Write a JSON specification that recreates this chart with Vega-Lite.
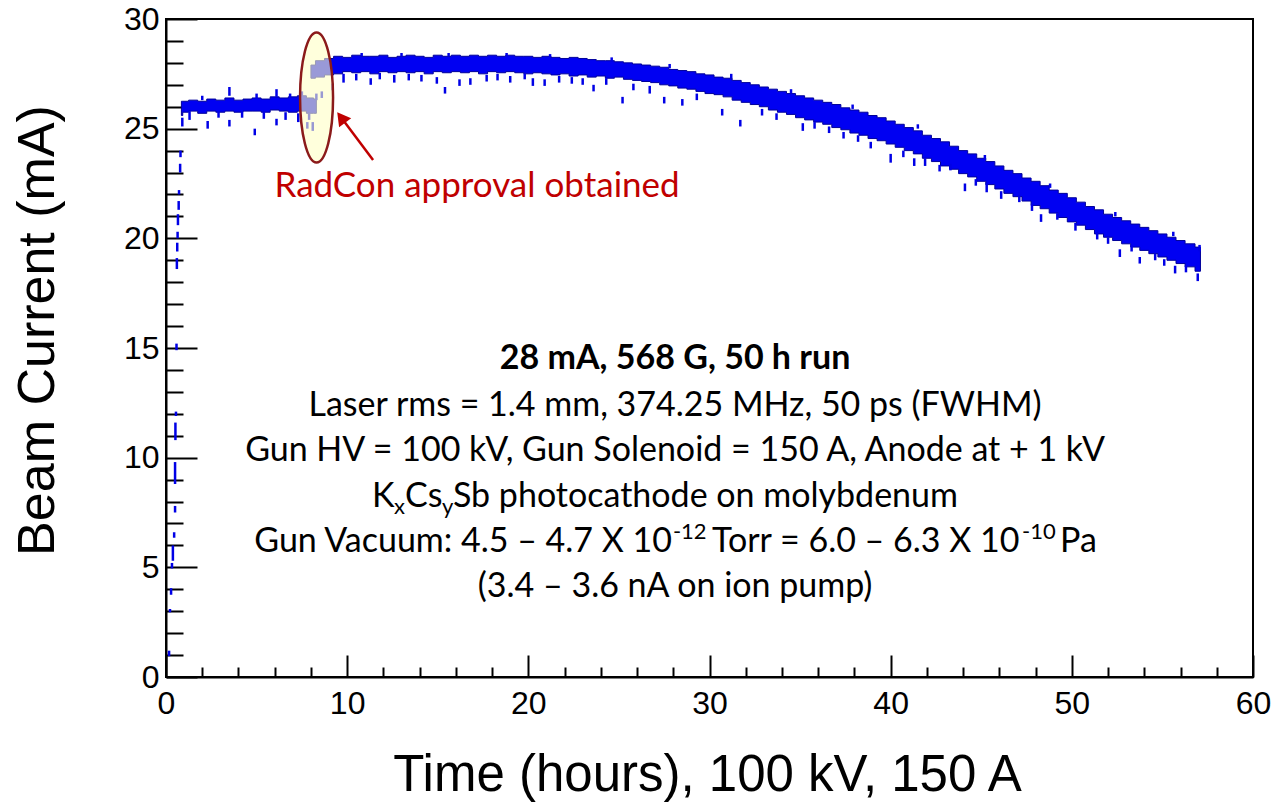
{
  "$schema": "https://vega.github.io/schema/vega-lite/v6.json",
  "width": 1087,
  "height": 658,
  "autosize": {"type": "none"},
  "padding": {"left": 166, "top": 19, "right": 18, "bottom": 130},
  "background": "white",
  "config": {
    "view": {"stroke": "black", "strokeWidth": 2},
    "axis": {
      "domainColor": "black",
      "domainWidth": 2,
      "tickColor": "black",
      "tickWidth": 2,
      "labelFont": "Liberation Sans",
      "labelFontSize": 32,
      "labelColor": "black",
      "labelFlush": false,
      "labelOverlap": false,
      "labelBound": false,
      "grid": false,
      "titleFont": "Liberation Sans",
      "titleFontSize": 50,
      "titleFontWeight": "normal",
      "titleColor": "black"
    }
  },
  "resolve": {"axis": {"x": "independent", "y": "independent"}},
  "datasets": {
    "band": [
      {"seg": "a", "t": 0.85, "lo": 25.6, "hi": 26.25},
      {"seg": "a", "t": 1.0, "lo": 25.75, "hi": 26.25},
      {"seg": "a", "t": 1.5, "lo": 25.8, "hi": 26.3},
      {"seg": "a", "t": 2.0, "lo": 25.7, "hi": 26.25},
      {"seg": "a", "t": 2.5, "lo": 25.8, "hi": 26.35},
      {"seg": "a", "t": 3.0, "lo": 25.75, "hi": 26.3},
      {"seg": "a", "t": 3.5, "lo": 25.8, "hi": 26.4},
      {"seg": "a", "t": 4.0, "lo": 25.75, "hi": 26.3},
      {"seg": "a", "t": 4.5, "lo": 25.8, "hi": 26.35},
      {"seg": "a", "t": 5.0, "lo": 25.8, "hi": 26.4},
      {"seg": "a", "t": 5.5, "lo": 25.75, "hi": 26.35},
      {"seg": "a", "t": 6.0, "lo": 25.85, "hi": 26.45},
      {"seg": "a", "t": 6.5, "lo": 25.8, "hi": 26.4},
      {"seg": "a", "t": 7.0, "lo": 25.75, "hi": 26.45},
      {"seg": "a", "t": 7.5, "lo": 25.8, "hi": 26.5},
      {"seg": "a", "t": 8.0, "lo": 25.7, "hi": 26.4},
      {"seg": "a", "t": 8.3, "lo": 25.7, "hi": 26.35},
      {"seg": "b", "t": 8.0, "lo": 27.3, "hi": 27.9},
      {"seg": "b", "t": 8.5, "lo": 27.35, "hi": 28.1},
      {"seg": "b", "t": 9.0, "lo": 27.45, "hi": 28.2},
      {"seg": "b", "t": 9.5, "lo": 27.5, "hi": 28.3},
      {"seg": "b", "t": 10.0, "lo": 27.6, "hi": 28.25},
      {"seg": "b", "t": 10.5, "lo": 27.55, "hi": 28.35},
      {"seg": "b", "t": 11.0, "lo": 27.6, "hi": 28.3},
      {"seg": "b", "t": 11.5, "lo": 27.5, "hi": 28.3},
      {"seg": "b", "t": 12.0, "lo": 27.6, "hi": 28.35},
      {"seg": "b", "t": 12.5, "lo": 27.55, "hi": 28.25},
      {"seg": "b", "t": 13.0, "lo": 27.6, "hi": 28.3},
      {"seg": "b", "t": 13.5, "lo": 27.55, "hi": 28.35},
      {"seg": "b", "t": 14.0, "lo": 27.6, "hi": 28.3},
      {"seg": "b", "t": 14.5, "lo": 27.5, "hi": 28.25},
      {"seg": "b", "t": 15.0, "lo": 27.6, "hi": 28.35},
      {"seg": "b", "t": 15.5, "lo": 27.55, "hi": 28.3},
      {"seg": "b", "t": 16.0, "lo": 27.6, "hi": 28.35},
      {"seg": "b", "t": 16.5, "lo": 27.55, "hi": 28.3},
      {"seg": "b", "t": 17.0, "lo": 27.6, "hi": 28.35},
      {"seg": "b", "t": 17.5, "lo": 27.5, "hi": 28.3},
      {"seg": "b", "t": 18.0, "lo": 27.6, "hi": 28.35},
      {"seg": "b", "t": 18.5, "lo": 27.55, "hi": 28.3},
      {"seg": "b", "t": 19.0, "lo": 27.6, "hi": 28.35},
      {"seg": "b", "t": 19.5, "lo": 27.55, "hi": 28.3},
      {"seg": "b", "t": 20.0, "lo": 27.5, "hi": 28.3},
      {"seg": "b", "t": 20.5, "lo": 27.55, "hi": 28.25},
      {"seg": "b", "t": 21.0, "lo": 27.5, "hi": 28.3},
      {"seg": "b", "t": 21.5, "lo": 27.45, "hi": 28.25},
      {"seg": "b", "t": 22.0, "lo": 27.5, "hi": 28.2},
      {"seg": "b", "t": 22.5, "lo": 27.4, "hi": 28.25},
      {"seg": "b", "t": 23.0, "lo": 27.45, "hi": 28.2},
      {"seg": "b", "t": 23.5, "lo": 27.35, "hi": 28.15},
      {"seg": "b", "t": 24.0, "lo": 27.4, "hi": 28.1},
      {"seg": "b", "t": 24.5, "lo": 27.3, "hi": 28.1},
      {"seg": "b", "t": 25.0, "lo": 27.35, "hi": 28.05},
      {"seg": "b", "t": 25.5, "lo": 27.25, "hi": 28.0},
      {"seg": "b", "t": 26.0, "lo": 27.2, "hi": 27.95},
      {"seg": "b", "t": 26.5, "lo": 27.15, "hi": 27.9},
      {"seg": "b", "t": 27.0, "lo": 27.1, "hi": 27.85},
      {"seg": "b", "t": 27.5, "lo": 27.0, "hi": 27.8},
      {"seg": "b", "t": 28.0, "lo": 26.95, "hi": 27.7},
      {"seg": "b", "t": 28.5, "lo": 26.85, "hi": 27.65},
      {"seg": "b", "t": 29.0, "lo": 26.8, "hi": 27.6},
      {"seg": "b", "t": 29.5, "lo": 26.7, "hi": 27.5},
      {"seg": "b", "t": 30.0, "lo": 26.6, "hi": 27.45},
      {"seg": "b", "t": 30.5, "lo": 26.55, "hi": 27.35},
      {"seg": "b", "t": 31.0, "lo": 26.45, "hi": 27.3},
      {"seg": "b", "t": 31.5, "lo": 26.3, "hi": 27.2},
      {"seg": "b", "t": 32.0, "lo": 26.2, "hi": 27.1},
      {"seg": "b", "t": 32.5, "lo": 26.1, "hi": 27.0},
      {"seg": "b", "t": 33.0, "lo": 26.0, "hi": 26.9},
      {"seg": "b", "t": 33.5, "lo": 25.85, "hi": 26.8},
      {"seg": "b", "t": 34.0, "lo": 25.75, "hi": 26.7},
      {"seg": "b", "t": 34.5, "lo": 25.65, "hi": 26.6},
      {"seg": "b", "t": 35.0, "lo": 25.5, "hi": 26.5},
      {"seg": "b", "t": 35.5, "lo": 25.4, "hi": 26.4},
      {"seg": "b", "t": 36.0, "lo": 25.3, "hi": 26.3},
      {"seg": "b", "t": 36.5, "lo": 25.2, "hi": 26.2},
      {"seg": "b", "t": 37.0, "lo": 25.05, "hi": 26.1},
      {"seg": "b", "t": 37.5, "lo": 24.95, "hi": 25.95},
      {"seg": "b", "t": 38.0, "lo": 24.8, "hi": 25.85},
      {"seg": "b", "t": 38.5, "lo": 24.7, "hi": 25.75},
      {"seg": "b", "t": 39.0, "lo": 24.55, "hi": 25.6},
      {"seg": "b", "t": 39.5, "lo": 24.45, "hi": 25.5},
      {"seg": "b", "t": 40.0, "lo": 24.3, "hi": 25.35},
      {"seg": "b", "t": 40.5, "lo": 24.15, "hi": 25.2},
      {"seg": "b", "t": 41.0, "lo": 24.0, "hi": 25.05},
      {"seg": "b", "t": 41.5, "lo": 23.85, "hi": 24.9},
      {"seg": "b", "t": 42.0, "lo": 23.65, "hi": 24.7},
      {"seg": "b", "t": 42.5, "lo": 23.5, "hi": 24.55},
      {"seg": "b", "t": 43.0, "lo": 23.3, "hi": 24.4},
      {"seg": "b", "t": 43.5, "lo": 23.15, "hi": 24.2},
      {"seg": "b", "t": 44.0, "lo": 22.95, "hi": 24.0},
      {"seg": "b", "t": 44.5, "lo": 22.8, "hi": 23.85},
      {"seg": "b", "t": 45.0, "lo": 22.6, "hi": 23.65},
      {"seg": "b", "t": 45.5, "lo": 22.45, "hi": 23.5},
      {"seg": "b", "t": 46.0, "lo": 22.25, "hi": 23.3},
      {"seg": "b", "t": 46.5, "lo": 22.05, "hi": 23.1},
      {"seg": "b", "t": 47.0, "lo": 21.9, "hi": 22.95},
      {"seg": "b", "t": 47.5, "lo": 21.7, "hi": 22.75},
      {"seg": "b", "t": 48.0, "lo": 21.5, "hi": 22.6},
      {"seg": "b", "t": 48.5, "lo": 21.35, "hi": 22.4},
      {"seg": "b", "t": 49.0, "lo": 21.15, "hi": 22.2},
      {"seg": "b", "t": 49.5, "lo": 20.95, "hi": 22.05},
      {"seg": "b", "t": 50.0, "lo": 20.75, "hi": 21.85},
      {"seg": "b", "t": 50.5, "lo": 20.6, "hi": 21.65},
      {"seg": "b", "t": 51.0, "lo": 20.4, "hi": 21.45},
      {"seg": "b", "t": 51.5, "lo": 20.2, "hi": 21.3},
      {"seg": "b", "t": 52.0, "lo": 20.05, "hi": 21.1},
      {"seg": "b", "t": 52.5, "lo": 19.9, "hi": 20.95},
      {"seg": "b", "t": 53.0, "lo": 19.75, "hi": 20.8},
      {"seg": "b", "t": 53.5, "lo": 19.6, "hi": 20.65},
      {"seg": "b", "t": 54.0, "lo": 19.45, "hi": 20.5},
      {"seg": "b", "t": 54.5, "lo": 19.3, "hi": 20.35},
      {"seg": "b", "t": 55.0, "lo": 19.15, "hi": 20.2},
      {"seg": "b", "t": 55.5, "lo": 19.0, "hi": 20.05},
      {"seg": "b", "t": 56.0, "lo": 18.85, "hi": 19.9},
      {"seg": "b", "t": 56.5, "lo": 18.7, "hi": 19.75},
      {"seg": "b", "t": 57.1, "lo": 18.5, "hi": 19.6}
    ],
    "dash": [
      {"t": 0.17, "lo": 0.95, "hi": 1.2},
      {"t": 0.22, "lo": 2.95, "hi": 3.1},
      {"t": 0.28, "lo": 3.75, "hi": 4.05},
      {"t": 0.33, "lo": 4.95, "hi": 5.2},
      {"t": 0.38, "lo": 5.3, "hi": 6.0},
      {"t": 0.45, "lo": 6.35, "hi": 6.6},
      {"t": 0.5, "lo": 7.5, "hi": 7.8},
      {"t": 0.5, "lo": 8.8, "hi": 9.8},
      {"t": 0.52, "lo": 10.8, "hi": 11.6},
      {"t": 0.55, "lo": 11.9, "hi": 12.1},
      {"t": 0.58, "lo": 14.9, "hi": 15.2},
      {"t": 0.6, "lo": 18.6, "hi": 19.1},
      {"t": 0.62, "lo": 19.4, "hi": 19.8},
      {"t": 0.64, "lo": 20.0, "hi": 20.3},
      {"t": 0.66, "lo": 20.6, "hi": 21.1},
      {"t": 0.7, "lo": 21.3, "hi": 21.7},
      {"t": 0.72, "lo": 22.0, "hi": 22.2},
      {"t": 0.78, "lo": 23.0, "hi": 23.4},
      {"t": 0.8, "lo": 23.7, "hi": 24.0},
      {"t": 0.9, "lo": 25.1, "hi": 25.5},
      {"t": 1.3, "lo": 25.4, "hi": 25.8},
      {"t": 2.0, "lo": 26.3, "hi": 26.5},
      {"t": 2.3, "lo": 25.0, "hi": 25.35},
      {"t": 2.9, "lo": 25.5, "hi": 25.8},
      {"t": 3.5, "lo": 25.1, "hi": 25.4},
      {"t": 3.5, "lo": 26.5, "hi": 26.9},
      {"t": 4.2, "lo": 25.5, "hi": 25.8},
      {"t": 4.9, "lo": 24.7, "hi": 25.0},
      {"t": 5.0, "lo": 26.35, "hi": 26.6},
      {"t": 5.4, "lo": 25.45, "hi": 25.8},
      {"t": 6.1, "lo": 25.15, "hi": 25.45},
      {"t": 6.1, "lo": 26.45, "hi": 26.8},
      {"t": 6.6, "lo": 25.4, "hi": 25.75},
      {"t": 6.85, "lo": 26.4, "hi": 26.6},
      {"t": 7.3, "lo": 25.3, "hi": 25.7},
      {"t": 7.5, "lo": 26.45, "hi": 26.7},
      {"t": 7.8, "lo": 25.0, "hi": 25.3},
      {"t": 7.9, "lo": 25.4, "hi": 25.7},
      {"t": 8.1, "lo": 24.9, "hi": 25.3},
      {"t": 8.3, "lo": 26.3, "hi": 26.6},
      {"t": 8.6, "lo": 26.4, "hi": 26.7},
      {"t": 9.2, "lo": 26.75, "hi": 27.05},
      {"t": 9.8, "lo": 27.1, "hi": 27.5},
      {"t": 10.5, "lo": 27.2, "hi": 27.5},
      {"t": 10.8, "lo": 28.3, "hi": 28.45},
      {"t": 11.3, "lo": 27.0, "hi": 27.3},
      {"t": 11.8, "lo": 27.25, "hi": 27.55},
      {"t": 12.6, "lo": 27.1, "hi": 27.45},
      {"t": 13.0, "lo": 28.3, "hi": 28.45},
      {"t": 13.4, "lo": 27.2, "hi": 27.5},
      {"t": 14.1, "lo": 27.15, "hi": 27.45},
      {"t": 14.95, "lo": 27.05, "hi": 27.35},
      {"t": 15.4, "lo": 26.6, "hi": 26.9},
      {"t": 15.6, "lo": 28.3, "hi": 28.45},
      {"t": 16.2, "lo": 26.95, "hi": 27.25},
      {"t": 16.8, "lo": 27.0, "hi": 27.3},
      {"t": 17.7, "lo": 27.15, "hi": 27.45},
      {"t": 18.3, "lo": 27.2, "hi": 27.5},
      {"t": 18.8, "lo": 28.3, "hi": 28.45},
      {"t": 19.0, "lo": 27.1, "hi": 27.4},
      {"t": 19.8, "lo": 27.25, "hi": 27.5},
      {"t": 20.25, "lo": 26.95, "hi": 27.3},
      {"t": 20.9, "lo": 26.95, "hi": 27.25},
      {"t": 21.2, "lo": 28.25, "hi": 28.4},
      {"t": 21.7, "lo": 27.1, "hi": 27.4},
      {"t": 22.4, "lo": 27.05, "hi": 27.35},
      {"t": 23.0, "lo": 27.0, "hi": 27.3},
      {"t": 23.6, "lo": 26.7, "hi": 27.0},
      {"t": 24.3, "lo": 27.0, "hi": 27.3},
      {"t": 24.6, "lo": 28.05, "hi": 28.25},
      {"t": 25.2, "lo": 26.15, "hi": 26.45},
      {"t": 25.8, "lo": 26.75, "hi": 27.05},
      {"t": 26.7, "lo": 26.6, "hi": 26.95},
      {"t": 27.5, "lo": 26.15, "hi": 26.45},
      {"t": 27.8, "lo": 27.75, "hi": 27.95},
      {"t": 28.5, "lo": 26.05, "hi": 26.35},
      {"t": 29.3, "lo": 26.3, "hi": 26.6},
      {"t": 30.7, "lo": 25.6, "hi": 25.9},
      {"t": 31.2, "lo": 27.3, "hi": 27.5},
      {"t": 31.7, "lo": 25.1, "hi": 25.4},
      {"t": 32.9, "lo": 25.6, "hi": 25.9},
      {"t": 33.7, "lo": 25.4, "hi": 25.7},
      {"t": 34.5, "lo": 26.6, "hi": 26.8},
      {"t": 35.15, "lo": 24.9, "hi": 25.25},
      {"t": 35.8, "lo": 25.0, "hi": 25.3},
      {"t": 36.6, "lo": 24.8, "hi": 25.1},
      {"t": 37.4, "lo": 24.55, "hi": 24.85},
      {"t": 37.9, "lo": 25.9, "hi": 26.1},
      {"t": 38.2, "lo": 24.4, "hi": 24.7},
      {"t": 38.9, "lo": 24.1, "hi": 24.4},
      {"t": 40.0, "lo": 23.45, "hi": 23.85},
      {"t": 40.7, "lo": 23.7, "hi": 24.0},
      {"t": 41.3, "lo": 23.3, "hi": 23.65},
      {"t": 41.5, "lo": 25.0, "hi": 25.2},
      {"t": 41.9, "lo": 23.3, "hi": 23.65},
      {"t": 42.7, "lo": 23.05, "hi": 23.35},
      {"t": 43.3, "lo": 23.1, "hi": 23.4},
      {"t": 44.1, "lo": 22.15, "hi": 22.5},
      {"t": 44.7, "lo": 22.4, "hi": 22.7},
      {"t": 45.2, "lo": 23.6, "hi": 23.8},
      {"t": 45.3, "lo": 22.1, "hi": 22.5},
      {"t": 46.1, "lo": 21.8, "hi": 22.15},
      {"t": 47.1, "lo": 21.65, "hi": 22.0},
      {"t": 47.8, "lo": 21.25, "hi": 21.55},
      {"t": 48.3, "lo": 20.75, "hi": 21.1},
      {"t": 48.8, "lo": 22.3, "hi": 22.5},
      {"t": 49.2, "lo": 20.85, "hi": 21.15},
      {"t": 50.2, "lo": 20.35, "hi": 20.7},
      {"t": 51.4, "lo": 19.95, "hi": 20.3},
      {"t": 52.0, "lo": 19.75, "hi": 20.05},
      {"t": 52.4, "lo": 21.0, "hi": 21.2},
      {"t": 52.65, "lo": 19.15, "hi": 19.5},
      {"t": 53.3, "lo": 19.4, "hi": 19.7},
      {"t": 53.75, "lo": 18.85, "hi": 19.15},
      {"t": 54.6, "lo": 19.0, "hi": 19.3},
      {"t": 55.1, "lo": 18.75, "hi": 19.05},
      {"t": 55.6, "lo": 20.1, "hi": 20.3},
      {"t": 55.7, "lo": 18.4, "hi": 18.75},
      {"t": 56.3, "lo": 18.45, "hi": 18.75},
      {"t": 56.95, "lo": 18.05, "hi": 18.4},
      {"t": 57.05, "lo": 19.4, "hi": 19.7}
    ]
  },
  "layer": [
    {
      "data": {"name": "band"},
      "mark": {"type": "area", "interpolate": "step", "color": "#0000f2", "stroke": "#00009a", "strokeWidth": 1, "opacity": 1},
      "encoding": {
        "x": {
          "field": "t", "type": "quantitative",
          "scale": {"domain": [0, 60], "nice": false, "zero": false},
          "axis": {
            "orient": "bottom",
            "title": "Time (hours), 100 kV, 150 A",
            "values": [0, 10, 20, 30, 40, 50, 60],
            "tickSize": -22,
            "labelPadding": 33,
            "titleX": 541,
            "titleY": 113,
            "titleAlign": "center",
            "titleBaseline": "alphabetic",
            "titleFontSize": 51
          }
        },
        "y": {
          "field": "lo", "type": "quantitative",
          "scale": {"domain": [0, 30], "nice": false, "zero": false},
          "axis": {
            "orient": "left",
            "title": "Beam Current (mA)",
            "values": [0, 5, 10, 15, 20, 25, 30],
            "tickSize": -31,
            "labelPadding": 38,
            "titleX": -102,
            "titleY": 311,
            "titleAngle": -90,
            "titleAlign": "center",
            "titleBaseline": "bottom",
            "titleFontSize": 52
          }
        },
        "y2": {"field": "hi"},
        "detail": {"field": "seg"}
      }
    },
    {
      "data": {"name": "dash"},
      "mark": {"type": "rule", "color": "#0000e6", "strokeWidth": 2.5, "strokeCap": "butt"},
      "encoding": {
        "x": {
          "field": "t", "type": "quantitative",
          "axis": {
            "orient": "bottom",
            "title": null,
            "values": [2, 4, 6, 8, 12, 14, 16, 18, 22, 24, 26, 28, 32, 34, 36, 38, 42, 44, 46, 48, 52, 54, 56, 58],
            "tickSize": -10,
            "labels": false,
            "domain": false
          }
        },
        "y": {
          "field": "lo", "type": "quantitative",
          "axis": {
            "orient": "left",
            "title": null,
            "values": [1, 2, 3, 4, 6, 7, 8, 9, 11, 12, 13, 14, 16, 17, 18, 19, 21, 22, 23, 24, 26, 27, 28, 29],
            "tickSize": -17,
            "labels": false,
            "domain": false
          }
        },
        "y2": {"field": "hi"}
      }
    },
    {
      "data": {"values": [{"t": 8.31, "v": 26.42}]},
      "mark": {
        "type": "point",
        "shape": "M0,-1 A0.254,1 0 1 1 0,1 A0.254,1 0 1 1 0,-1 Z",
        "size": 16900,
        "filled": true,
        "fill": "#ffffc4",
        "fillOpacity": 0.6,
        "stroke": "#8b1a1a",
        "strokeWidth": 2.5,
        "strokeOpacity": 1,
        "opacity": 1
      },
      "encoding": {
        "x": {"field": "t", "type": "quantitative", "axis": null},
        "y": {"field": "v", "type": "quantitative", "axis": null}
      }
    },
    {
      "data": {"values": [{"t": 11.43, "v": 23.57, "t2": 9.67, "v2": 25.51}]},
      "mark": {"type": "rule", "color": "#c00000", "strokeWidth": 2.5},
      "encoding": {
        "x": {"field": "t", "type": "quantitative", "axis": null},
        "y": {"field": "v", "type": "quantitative", "axis": null},
        "x2": {"field": "t2"},
        "y2": {"field": "v2"}
      }
    },
    {
      "data": {"values": [{"t": 9.67, "v": 25.51}]},
      "mark": {"type": "point", "shape": "triangle-up", "angle": -37, "size": 230, "filled": true, "color": "#c00000", "opacity": 1},
      "encoding": {
        "x": {"field": "t", "type": "quantitative", "axis": null},
        "y": {"field": "v", "type": "quantitative", "axis": null}
      }
    },
    {
      "data": {"values": [{"t": 17.17, "v": 21.89, "label": "RadCon approval obtained"}]},
      "mark": {"type": "text", "font": "Lato", "fontSize": 35, "color": "#c00000", "align": "center", "baseline": "alphabetic"},
      "encoding": {
        "x": {"field": "t", "type": "quantitative", "axis": null},
        "y": {"field": "v", "type": "quantitative", "axis": null},
        "text": {"field": "label"}
      }
    },
    {
      "data": {"values": [{"t": 28.1, "v": 14.04, "label": "28 mA, 568 G, 50 h run"}]},
      "mark": {"type": "text", "font": "Lato", "fontSize": 34, "fontWeight": "bold", "color": "black", "align": "center", "baseline": "alphabetic"},
      "encoding": {
        "x": {"field": "t", "type": "quantitative", "axis": null},
        "y": {"field": "v", "type": "quantitative", "axis": null},
        "text": {"field": "label"}
      }
    },
    {
      "data": {"values": [
        {"t": 28.1, "v": 11.9, "label": "Laser rms = 1.4 mm, 374.25 MHz, 50 ps (FWHM)"},
        {"t": 28.1, "v": 9.85, "label": "Gun HV = 100 kV, Gun Solenoid = 150 A, Anode at + 1 kV"},
        {"t": 28.1, "v": 3.65, "label": "(3.4 – 3.6 nA on ion pump)"}
      ]},
      "mark": {"type": "text", "font": "Lato", "fontSize": 34, "color": "black", "align": "center", "baseline": "alphabetic"},
      "encoding": {
        "x": {"field": "t", "type": "quantitative", "axis": null},
        "y": {"field": "v", "type": "quantitative", "axis": null},
        "text": {"field": "label"}
      }
    },
    {
      "data": {"values": [
        {"t": 11.37, "v": 7.75, "label": "K"},
        {"t": 13.19, "v": 7.75, "label": "Cs"},
        {"t": 15.84, "v": 7.75, "label": "Sb photocathode on molybdenum"},
        {"t": 30.14, "v": 5.7, "label": "Torr = 6.0 – 6.3 X 10"},
        {"t": 49.35, "v": 5.7, "label": "Pa"}
      ]},
      "mark": {"type": "text", "font": "Lato", "fontSize": 34, "color": "black", "align": "left", "baseline": "alphabetic"},
      "encoding": {
        "x": {"field": "t", "type": "quantitative", "axis": null},
        "y": {"field": "v", "type": "quantitative", "axis": null},
        "text": {"field": "label"}
      }
    },
    {
      "data": {"values": [
        {"t": 27.93, "v": 5.7, "label": "Gun Vacuum: 4.5 – 4.7 X 10"}
      ]},
      "mark": {"type": "text", "font": "Lato", "fontSize": 34, "color": "black", "align": "right", "baseline": "alphabetic"},
      "encoding": {
        "x": {"field": "t", "type": "quantitative", "axis": null},
        "y": {"field": "v", "type": "quantitative", "axis": null},
        "text": {"field": "label"}
      }
    },
    {
      "data": {"values": [
        {"t": 12.58, "v": 7.43, "label": "x"},
        {"t": 15.23, "v": 7.43, "label": "y"},
        {"t": 27.98, "v": 6.29, "label": "-12"},
        {"t": 47.25, "v": 6.29, "label": "-10"}
      ]},
      "mark": {"type": "text", "font": "Lato", "fontSize": 22, "color": "black", "align": "left", "baseline": "alphabetic"},
      "encoding": {
        "x": {"field": "t", "type": "quantitative", "axis": null},
        "y": {"field": "v", "type": "quantitative", "axis": null},
        "text": {"field": "label"}
      }
    }
  ]
}
